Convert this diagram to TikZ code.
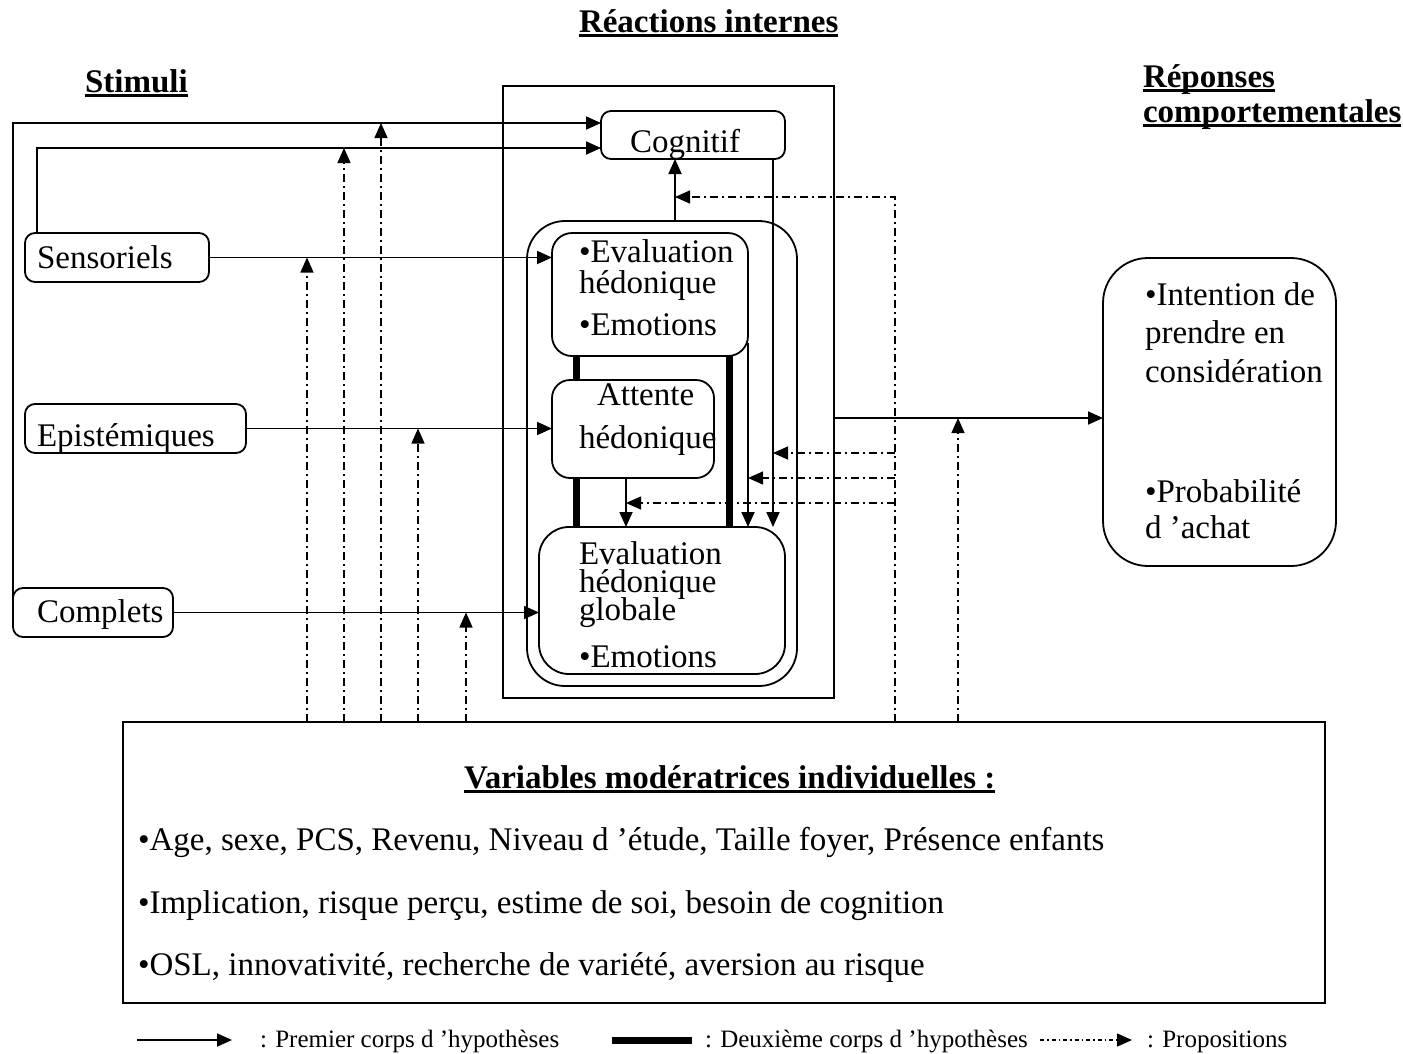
\documentclass[tikz,border=0pt]{standalone}
\usepackage{fontspec}
\setmainfont{Liberation Serif}
\usetikzlibrary{arrows.meta}
\newsavebox\ulbox
\newcommand\myul[1]{\sbox\ulbox{#1}\rlap{\rule[-5pt]{\wd\ulbox}{3pt}}\usebox\ulbox}
\newcommand\fbig{\fontsize{33}{38}\selectfont}
\newcommand\fleg{\fontsize{25}{30}\selectfont}
\tikzset{
  rbox/.style={draw, line width=1.8pt, rounded corners=10pt, inner sep=0pt, outer sep=0pt, fill=white},
  sbox/.style={draw, line width=1.8pt, inner sep=0pt, outer sep=0pt},
  conn/.style={line width=1.8pt, -{Triangle[length=15pt,width=13pt]}},
  prop/.style={line width=1.4pt, dash pattern=on 8pt off 4pt on 2pt off 4pt, -{Triangle[length=15pt,width=13pt]}},
  thickl/.style={line width=7pt},
  txt/.style={anchor=base west, inner sep=0pt, outer sep=0pt, font=\fbig},
  legt/.style={anchor=base west, inner sep=0pt, outer sep=0pt, font=\fleg},
}
\begin{document}
\begin{tikzpicture}[x=1pt,y=-1pt]
\useasboundingbox (0,0) rectangle (1403,1053);

% titles
\node[txt] (t1) at (579,32) {\bfseries\myul{Réactions internes}};
\node[txt] (t2) at (85,92) {\bfseries\myul{Stimuli}};
\node[txt] (t3) at (1143,87) {\bfseries\myul{Réponses}};
\node[txt] (t4) at (1143,122) {\bfseries\myul{comportementales}};

% boxes
\node[sbox, minimum width=331pt, minimum height=612pt] (intbox) at (668.5,392) {};
\node[rbox, minimum width=184pt, minimum height=48pt] (cog) at (693,135) {};
\node[rbox, minimum width=184pt, minimum height=49pt] (sens) at (117,257.5) {};
\node[rbox, minimum width=221pt, minimum height=49pt] (epis) at (135.5,428.5) {};
\node[rbox, minimum width=160pt, minimum height=49pt] (comp) at (93,612.5) {};
\node[rbox, rounded corners=38pt, minimum width=270pt, minimum height=465pt] (hedbox) at (662,453.5) {};
\node[rbox, rounded corners=20pt, minimum width=196pt, minimum height=123pt] (evh) at (650,294.5) {};
\node[rbox, rounded corners=30pt, minimum width=246pt, minimum height=147pt] (evg) at (662,600.5) {};

% thick lines (second body of hypotheses)
\coordinate (tx1) at (576,0);
\coordinate (tx2) at (729,0);
\draw[thickl] (evh.south -| tx1) -- (evg.north -| tx1);
\draw[thickl] (evh.south -| tx2) -- (evg.north -| tx2);

\node[rbox, rounded corners=18pt, minimum width=162pt, minimum height=98pt] (att) at (633,429) {};
\node[rbox, rounded corners=45pt, minimum width=233pt, minimum height=308pt] (resp) at (1219.5,412) {};
\node[sbox, minimum width=1202pt, minimum height=281pt] (varbox) at (724,862.5) {};

% texts in boxes
\node[txt] (tcog) at (630,152) {Cognitif};
\node[txt] (tsens) at (37,268) {Sensoriels};
\node[txt] (tepis) at (37,446) {Epistémiques};
\node[txt] (tcomp) at (37,622) {Complets};
\node[txt] (evh1) at (579,262) {•Evaluation};
\node[txt] (evh2) at (579,293) {hédonique};
\node[txt] (evh3) at (579,335) {•Emotions};
\node[txt] (att1) at (597,405) {Attente};
\node[txt] (att2) at (579,448) {hédonique};
\node[txt] (evg1) at (579,564) {Evaluation};
\node[txt] (evg2) at (579,592) {hédonique};
\node[txt] (evg3) at (579,620) {globale};
\node[txt] (evg4) at (579,667) {•Emotions};
\node[txt] (r1) at (1145,305) {•Intention de};
\node[txt] (r2) at (1145,343) {prendre en};
\node[txt] (r3) at (1145,382) {considération};
\node[txt] (r4) at (1145,502) {•Probabilité};
\node[txt] (r5) at (1145,538) {d ’achat};
\node[txt] (v0) at (464,788) {\bfseries\myul{Variables modératrices individuelles :}};
\node[txt] (v1) at (138,850) {•Age, sexe, PCS, Revenu, Niveau d ’étude, Taille foyer, Présence enfants};
\node[txt] (v2) at (138,913) {•Implication, risque perçu, estime de soi, besoin de cognition};
\node[txt] (v3) at (138,975) {•OSL, innovativité, recherche de variété, aversion au risque};

% first body of hypotheses (solid arrows)
\draw[conn] (comp.west) |- ([yshift=12pt]cog.west);
\draw[conn] ([xshift=12pt]sens.north west) |- ([yshift=-13pt]cog.west);
\draw[conn] (sens.east) -- (sens.east -| evh.west);
\draw[conn] (epis.east) -- (epis.east -| att.west);
\draw[conn] (comp.east) -- (comp.east -| evg.west);
\coordinate (cv) at (675,0);
\draw[conn] (hedbox.north -| cv) -- (cog.south -| cv);
\draw[conn] ([xshift=-12pt]cog.south east) -- ([xshift=-12pt]cog.south east |- evg.north);
\draw[conn] ([yshift=13pt]evh.south east) -- (evh.east |- evg.north);
\draw[conn] ([xshift=-7pt]att.south) -- ([xshift=-7pt]att.south |- evg.north);
\coordinate (mline) at (0,418);
\draw[conn] (intbox.east |- mline) -- (resp.west |- mline);

% propositions (dash-dot arrows)
\coordinate (d1) at (307,257.5);
\coordinate (d2) at (344,148);
\coordinate (d3) at (381,123);
\coordinate (d4) at (418,428.5);
\coordinate (d5) at (466,612.5);
\coordinate (d7) at (958,418);
\foreach \d in {d1,d2,d3,d4,d5,d7} {
  \draw[prop] (varbox.north -| \d) -- (\d);
}
\coordinate (rx) at (895,0);
\coordinate (e1) at (675,197);
\coordinate (e2) at (773,453);
\coordinate (e3) at (748,478);
\coordinate (e4) at (626,503);
\draw[prop] (varbox.north -| rx) -- (rx |- e1) -- (e1);
\draw[prop] (rx |- e2) -- (e2);
\draw[prop] (rx |- e3) -- (e3);
\draw[prop] (rx |- e4) -- (e4);

% legend
\coordinate (la) at (137,1040);
\coordinate (lb) at (232,1040);
\draw[conn] (la) -- (lb);
\node[legt] (lt1) at (260,1047) {: Premier corps d ’hypothèses};
\coordinate (lc) at (612,1040);
\coordinate (ld) at (692,1040);
\draw[thickl] (lc) -- (ld);
\node[legt] (lt2) at (705,1047) {: Deuxième corps d ’hypothèses};
\coordinate (le) at (1040,1040);
\coordinate (lf) at (1132,1040);
\draw[prop, dash pattern=on 4pt off 3pt on 1.5pt off 3pt] (le) -- (lf);
\node[legt] (lt3) at (1147,1047) {: Propositions};
\end{tikzpicture}
\end{document}
